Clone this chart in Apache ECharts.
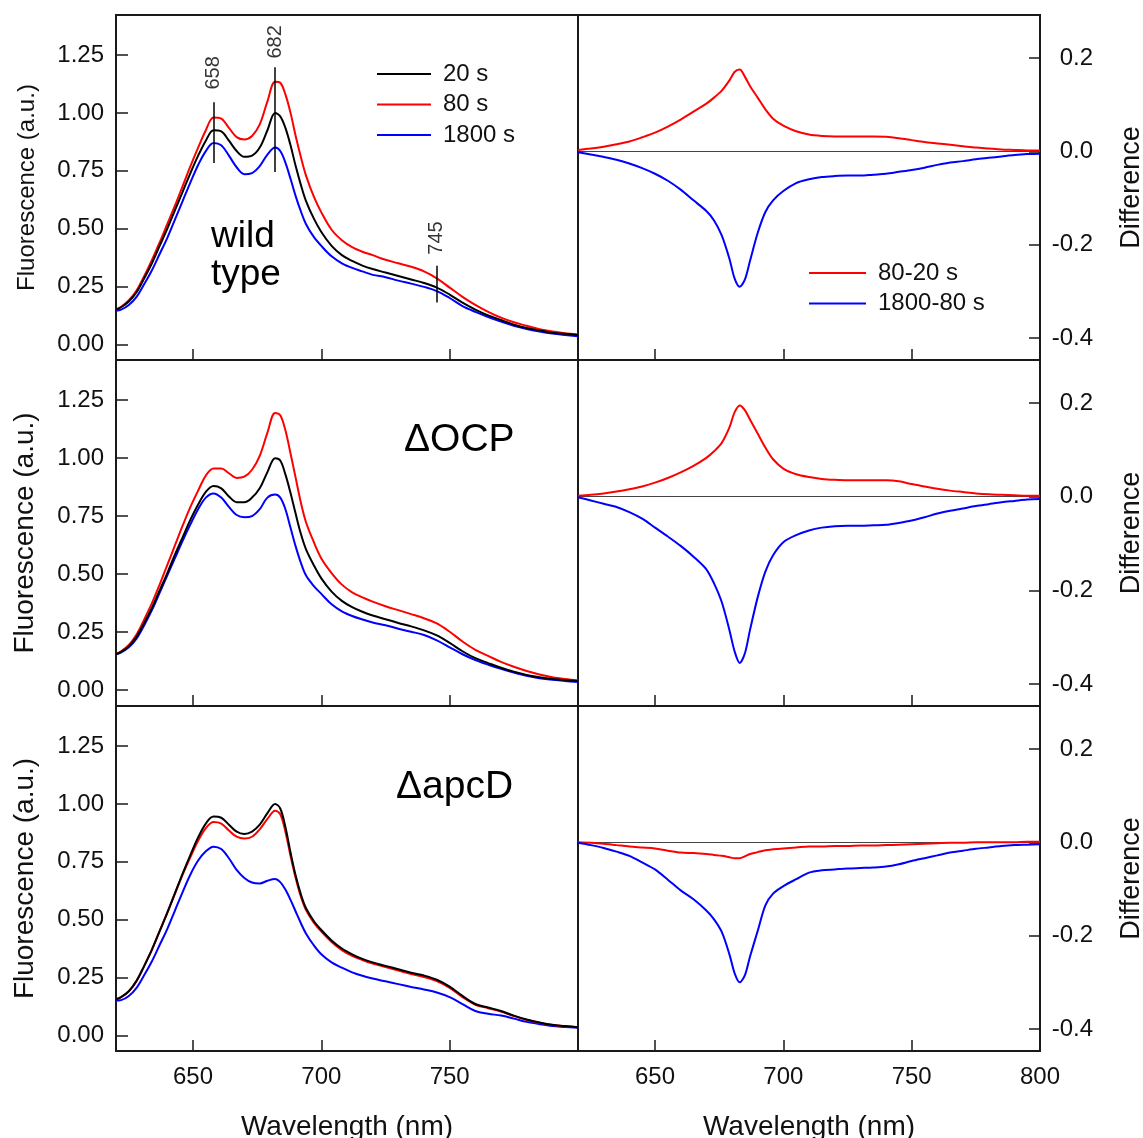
<!DOCTYPE html>
<html><head><meta charset="utf-8">
<script src="https://cdn.jsdelivr.net/npm/echarts@6/dist/echarts.min.js"></script>
<style>html,body{margin:0;padding:0;background:#fff}#c{width:1143px;height:1138px}</style>
</head><body><div id="c"></div>
<script>
// ---------- data ----------
const wavelengths = [620,622,625,628,631,634,637,640,643,646,649,652,655,658,661,664,667,670,673,676,679,682,684,686,688,690,692,694,697,700,704,708,712,716,720,725,730,735,740,745,750,755,760,765,770,775,780,785,790,795,800];

const wt20   = [0.150,0.160,0.185,0.225,0.285,0.350,0.425,0.500,0.580,0.660,0.740,0.815,0.880,0.925,0.920,0.880,0.835,0.810,0.815,0.850,0.925,1.000,0.985,0.935,0.860,0.770,0.690,0.620,0.545,0.485,0.425,0.385,0.360,0.340,0.325,0.310,0.295,0.280,0.265,0.245,0.215,0.180,0.150,0.125,0.105,0.085,0.070,0.060,0.050,0.045,0.040];
const wt80   = [0.150,0.162,0.190,0.232,0.295,0.365,0.440,0.520,0.600,0.685,0.770,0.850,0.925,0.980,0.975,0.935,0.895,0.885,0.900,0.950,1.050,1.135,1.130,1.080,1.000,0.900,0.810,0.730,0.640,0.570,0.495,0.450,0.420,0.400,0.385,0.365,0.350,0.335,0.315,0.285,0.245,0.205,0.170,0.140,0.115,0.095,0.080,0.065,0.055,0.048,0.042];
const wt1800 = [0.145,0.150,0.170,0.205,0.260,0.320,0.390,0.460,0.540,0.620,0.700,0.775,0.835,0.870,0.860,0.815,0.765,0.735,0.740,0.770,0.820,0.850,0.835,0.785,0.715,0.640,0.575,0.520,0.465,0.425,0.380,0.350,0.330,0.315,0.300,0.290,0.275,0.262,0.248,0.230,0.200,0.165,0.140,0.118,0.098,0.080,0.066,0.055,0.046,0.040,0.035];

const ocp20   = [0.155,0.165,0.190,0.230,0.290,0.355,0.430,0.505,0.585,0.660,0.735,0.800,0.855,0.880,0.870,0.835,0.810,0.810,0.830,0.870,0.940,1.000,0.990,0.930,0.850,0.760,0.675,0.608,0.540,0.482,0.425,0.385,0.358,0.338,0.322,0.306,0.290,0.275,0.258,0.236,0.204,0.168,0.138,0.117,0.097,0.080,0.066,0.056,0.048,0.043,0.040];
const ocp80   = [0.155,0.168,0.195,0.240,0.305,0.375,0.455,0.540,0.625,0.710,0.790,0.860,0.925,0.955,0.955,0.935,0.915,0.920,0.950,1.010,1.110,1.195,1.185,1.120,1.020,0.915,0.810,0.725,0.640,0.568,0.505,0.455,0.422,0.400,0.382,0.362,0.345,0.328,0.310,0.288,0.252,0.210,0.174,0.148,0.122,0.101,0.083,0.068,0.056,0.048,0.042];
const ocp1800 = [0.155,0.163,0.185,0.222,0.280,0.345,0.420,0.495,0.570,0.645,0.715,0.780,0.830,0.848,0.830,0.790,0.755,0.745,0.750,0.780,0.830,0.843,0.830,0.780,0.700,0.620,0.550,0.495,0.450,0.415,0.370,0.340,0.320,0.305,0.292,0.280,0.265,0.252,0.238,0.215,0.185,0.155,0.130,0.110,0.092,0.076,0.062,0.052,0.045,0.040,0.035];

const apc20   = [0.155,0.165,0.190,0.235,0.300,0.370,0.450,0.530,0.615,0.700,0.780,0.855,0.915,0.945,0.940,0.910,0.880,0.870,0.880,0.910,0.960,1.000,0.980,0.900,0.790,0.690,0.610,0.550,0.495,0.455,0.410,0.375,0.350,0.330,0.315,0.300,0.285,0.270,0.258,0.240,0.210,0.170,0.135,0.120,0.105,0.085,0.068,0.055,0.045,0.040,0.035];
const apc80   = [0.155,0.165,0.190,0.235,0.300,0.370,0.450,0.530,0.612,0.695,0.770,0.840,0.895,0.922,0.915,0.885,0.858,0.850,0.858,0.890,0.935,0.970,0.955,0.880,0.775,0.680,0.600,0.542,0.488,0.448,0.403,0.368,0.343,0.325,0.310,0.295,0.280,0.265,0.252,0.234,0.205,0.165,0.132,0.117,0.102,0.083,0.066,0.054,0.044,0.039,0.035];
const apc1800 = [0.150,0.152,0.170,0.205,0.260,0.320,0.390,0.460,0.540,0.620,0.695,0.755,0.795,0.815,0.805,0.765,0.715,0.680,0.660,0.656,0.668,0.675,0.662,0.630,0.585,0.535,0.485,0.440,0.390,0.350,0.315,0.292,0.272,0.257,0.245,0.233,0.221,0.209,0.198,0.185,0.165,0.135,0.105,0.093,0.085,0.072,0.058,0.048,0.040,0.036,0.032];

const diffWavelengths = [620,625,630,635,640,645,650,655,660,665,670,673,676,679,681,683,685,687,690,693,696,700,705,710,715,720,725,730,735,740,745,750,755,760,765,770,775,780,785,790,795,800];

const wtDiff8020   = [0.003,0.006,0.010,0.015,0.021,0.030,0.040,0.053,0.068,0.085,0.102,0.115,0.130,0.152,0.170,0.175,0.160,0.140,0.115,0.090,0.070,0.055,0.043,0.036,0.033,0.032,0.032,0.032,0.032,0.031,0.028,0.024,0.020,0.017,0.014,0.011,0.008,0.006,0.004,0.003,0.002,0.002];
const wtDiff180080 = [-0.002,-0.007,-0.012,-0.018,-0.026,-0.036,-0.048,-0.063,-0.082,-0.105,-0.128,-0.148,-0.180,-0.230,-0.272,-0.290,-0.275,-0.235,-0.175,-0.130,-0.105,-0.085,-0.068,-0.060,-0.055,-0.053,-0.052,-0.052,-0.050,-0.048,-0.044,-0.040,-0.035,-0.029,-0.024,-0.021,-0.017,-0.014,-0.011,-0.008,-0.006,-0.005];

const ocpDiff8020   = [0.002,0.004,0.007,0.011,0.016,0.022,0.030,0.040,0.052,0.066,0.083,0.097,0.115,0.148,0.180,0.195,0.185,0.165,0.135,0.105,0.080,0.060,0.048,0.042,0.038,0.036,0.035,0.035,0.035,0.035,0.033,0.027,0.022,0.017,0.013,0.010,0.007,0.005,0.004,0.003,0.002,0.002];
const ocpDiff180080 = [-0.001,-0.008,-0.015,-0.022,-0.033,-0.047,-0.066,-0.085,-0.105,-0.128,-0.155,-0.185,-0.225,-0.285,-0.330,-0.355,-0.335,-0.285,-0.215,-0.160,-0.125,-0.097,-0.082,-0.072,-0.066,-0.063,-0.062,-0.062,-0.061,-0.060,-0.056,-0.051,-0.044,-0.036,-0.030,-0.025,-0.020,-0.016,-0.012,-0.009,-0.006,-0.005];

const apcDiff8020   = [0.000,-0.001,-0.003,-0.006,-0.009,-0.011,-0.013,-0.018,-0.022,-0.023,-0.025,-0.027,-0.029,-0.032,-0.034,-0.034,-0.030,-0.025,-0.021,-0.017,-0.015,-0.013,-0.011,-0.009,-0.009,-0.008,-0.008,-0.007,-0.007,-0.006,-0.005,-0.004,-0.003,-0.002,-0.001,-0.001,0.000,0.000,0.000,0.000,0.001,0.001];
const apcDiff180080 = [-0.001,-0.006,-0.012,-0.020,-0.029,-0.043,-0.058,-0.080,-0.103,-0.122,-0.146,-0.165,-0.192,-0.240,-0.280,-0.300,-0.285,-0.245,-0.190,-0.135,-0.110,-0.094,-0.079,-0.065,-0.060,-0.058,-0.056,-0.055,-0.054,-0.052,-0.047,-0.040,-0.034,-0.028,-0.022,-0.018,-0.014,-0.011,-0.008,-0.006,-0.005,-0.004];

// peak annotations (wild type panel)
const peakNm      = [658, 682, 745];
const peakLineLo  = [0.783, 0.745, 0.180];
const peakLineHi  = [1.046, 1.197, 0.339];
const peakLabelY  = [1.173, 1.307, 0.459];

const fluorTicks = [0, 0.25, 0.5, 0.75, 1.0, 1.25];
const diffTicks  = [-0.4, -0.2, 0, 0.2];
const leftXTicks  = [650, 700, 750];
const rightXTicks = [650, 700, 750, 800];

const fluorNames = ['20 s', '80 s', '1800 s'];
const diffNames  = ['80-20 s', '1800-80 s'];
const panelLabels = ['wild', 'type', '\u0394OCP', '\u0394apcD'];

// ---------- build ----------
const FONT = '"Liberation Sans", Arial, Helvetica, sans-serif';
const INK = '#111';
const colors = ['#000000', '#ff0000', '#0000ff'];
const diffColors = ['#ff0000', '#0000ff'];
const tops = [15, 360, 706];
const heights = [345, 346, 345];

const fluorSets = [[wt20, wt80, wt1800], [ocp20, ocp80, ocp1800], [apc20, apc80, apc1800]];
const diffSets = [[wtDiff8020, wtDiff180080], [ocpDiff8020, ocpDiff180080], [apcDiff8020, apcDiff180080]];

const zip = (xs, ys) => xs.map((x, i) => [x, ys[i]]);

const grid = [], xAxis = [], yAxis = [], series = [];
for (let r = 0; r < 3; r++) {
  for (let c = 0; c < 2; c++) {
    grid.push({left: c === 0 ? 116 : 578, top: tops[r], width: 462, height: heights[r],
      show: true, borderColor: '#1a1a1a', borderWidth: 2, backgroundColor: 'transparent',
      containLabel: false, outerBoundsMode: 'none'});
    const xt = c === 0 ? leftXTicks : rightXTicks;
    xAxis.push({type: 'value', gridIndex: 2 * r + c, min: 620, max: 800, position: 'bottom',
      axisLine: {show: false, onZero: false}, splitLine: {show: false},
      axisTick: {show: true, inside: true, length: 11, customValues: xt, lineStyle: {color: '#1a1a1a', width: 1.5}},
      axisLabel: {show: r === 2, customValues: xt, fontSize: 24, margin: 14, color: INK, fontFamily: FONT},
      name: r === 2 ? 'Wavelength (nm)' : '', nameLocation: 'middle', nameGap: 62,
      nameTextStyle: {fontSize: 28, color: INK, fontFamily: FONT}});
    if (c === 0) {
      yAxis.push({type: 'value', gridIndex: 2 * r, min: -0.068, max: 1.423, position: 'left',
        axisLine: {show: false, onZero: false}, splitLine: {show: false},
        axisTick: {show: true, inside: true, length: 12, customValues: fluorTicks, lineStyle: {color: '#1a1a1a', width: 1.5}},
        axisLabel: {customValues: fluorTicks, formatter: v => Number(v).toFixed(2), fontSize: 24, margin: 12, color: INK, fontFamily: FONT},
        name: 'Fluorescence (a.u.)', nameLocation: 'middle', nameRotate: 90, nameGap: 77,
        nameTextStyle: {fontSize: r === 0 ? 24 : 28, color: INK, fontFamily: FONT}});
    } else {
      yAxis.push({type: 'value', gridIndex: 2 * r + 1, min: -0.447, max: 0.292, position: 'right',
        axisLine: {show: false, onZero: false}, splitLine: {show: false},
        axisTick: {show: true, inside: true, length: 11, customValues: diffTicks, lineStyle: {color: '#1a1a1a', width: 1.5}},
        axisLabel: {customValues: diffTicks, formatter: v => Number(v).toFixed(1), fontSize: 24, margin: 53, align: 'right', color: INK, fontFamily: FONT},
        name: 'Difference', nameLocation: 'middle', nameRotate: 90, nameGap: 78,
        nameTextStyle: {fontSize: 27, color: INK, fontFamily: FONT}});
    }
  }
  // fluorescence spectra
  fluorSets[r].forEach((arr, k) => {
    const s = {name: fluorNames[k], type: 'line', xAxisIndex: 2 * r, yAxisIndex: 2 * r,
      data: zip(wavelengths, arr), symbol: 'none', showSymbol: false, smooth: 0.35,
      lineStyle: {color: colors[k], width: 2}, itemStyle: {color: colors[k]}, z: 3 - k + 2};
    if (r === 0 && k === 0) {
      s.markLine = {silent: true, symbol: ['none', 'none'], animation: false,
        label: {show: false}, lineStyle: {color: '#000', width: 1.5, type: 'solid'},
        data: peakNm.map((nm, i) => [{coord: [nm, peakLineLo[i]]}, {coord: [nm, peakLineHi[i]]}])};
    }
    series.push(s);
  });
  // difference spectra
  diffSets[r].forEach((arr, k) => {
    const s = {name: diffNames[k], type: 'line', xAxisIndex: 2 * r + 1, yAxisIndex: 2 * r + 1,
      data: zip(diffWavelengths, arr), symbol: 'none', showSymbol: false, smooth: 0.3,
      lineStyle: {color: diffColors[k], width: 2}, itemStyle: {color: diffColors[k]}, z: 4};
    if (k === 0) {
      s.markLine = {silent: true, symbol: ['none', 'none'], animation: false, z: 1,
        label: {show: false}, lineStyle: {color: '#444', width: 1, type: 'solid'},
        data: [{yAxis: 0}]};
    }
    series.push(s);
  });
}
// peak wavelength labels
series.push({type: 'scatter', xAxisIndex: 0, yAxisIndex: 0, symbol: 'circle', symbolSize: 2, silent: true,
  itemStyle: {color: 'rgba(0,0,0,0)'}, z: 10,
  data: peakNm.map((nm, i) => [nm, peakLabelY[i]]),
  label: {show: true, position: 'inside', rotate: 90, formatter: p => String(p.value[0]),
    fontSize: 20, color: '#000', fontFamily: FONT},
  labelLayout: {hideOverlap: false}});

const graphic = [
  {type: 'text', x: 211, y: 237, style: {text: panelLabels[0], fontSize: 37, fontFamily: FONT, fill: '#000', verticalAlign: 'middle'}},
  {type: 'text', x: 211, y: 275, style: {text: panelLabels[1], fontSize: 37, fontFamily: FONT, fill: '#000', verticalAlign: 'middle'}},
  {type: 'text', x: 404, y: 440, style: {text: panelLabels[2], fontSize: 39, fontFamily: FONT, fill: '#000', verticalAlign: 'middle'}},
  {type: 'text', x: 396, y: 787, style: {text: panelLabels[3], fontSize: 39, fontFamily: FONT, fill: '#000', verticalAlign: 'middle'}}
];

const legendCommon = {orient: 'vertical', icon: 'rect', itemHeight: 2, itemGap: 6.5, padding: 0,
  textStyle: {fontSize: 24, color: INK, fontFamily: FONT, lineHeight: 24, padding: [0, 0, 0, 7]},
  selectedMode: false};

const option = {
  animation: false,
  backgroundColor: '#fff',
  grid, xAxis, yAxis, series, graphic,
  legend: [
    Object.assign({}, legendCommon, {data: fluorNames, left: 377, top: 62, itemWidth: 54}),
    Object.assign({}, legendCommon, {data: diffNames, left: 809, top: 261, itemWidth: 57})
  ]
};
const chart = echarts.init(document.getElementById('c'), null, {renderer: 'canvas'});
chart.setOption(option);
</script>
</body></html>
